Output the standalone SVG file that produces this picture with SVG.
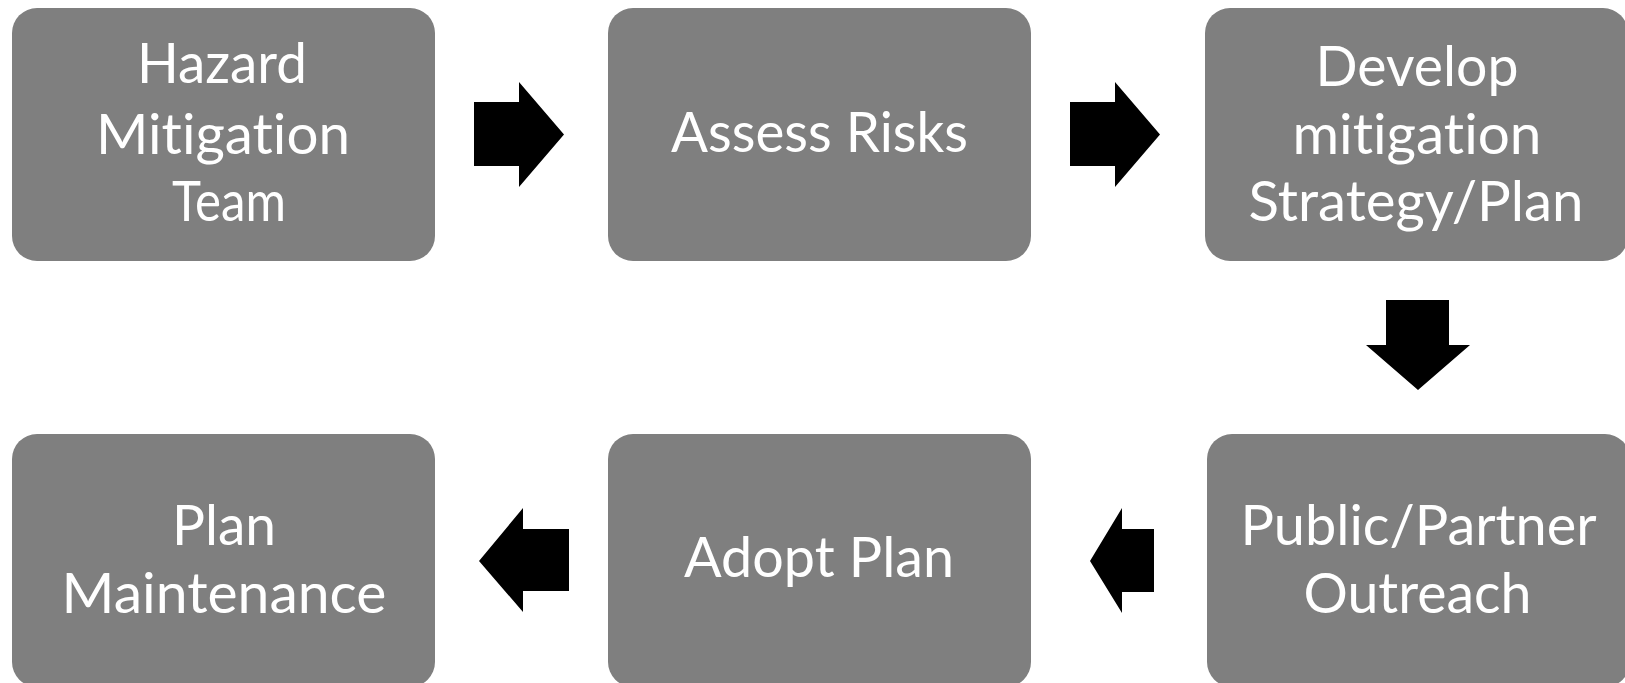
<svg xmlns="http://www.w3.org/2000/svg" width="1625" height="683" viewBox="0 0 1625 683">
<style>
.box{fill:#7f7f7f;}
.lbl{fill:#ffffff;font-family:Lato,"Open Sans","Liberation Sans",sans-serif;font-size:57px;text-anchor:middle;font-variant-ligatures:none;font-feature-settings:"liga" 0,"clig" 0;}
.arr{fill:#000000;}
</style>
<rect width="1625" height="683" fill="#ffffff"/>
<g id="node-hazard-team">
<rect class="box" x="12" y="8" width="423" height="253" rx="25"/>
<text class="lbl"><tspan x="222" y="83" textLength="170" lengthAdjust="spacingAndGlyphs">Hazard</tspan><tspan x="223" y="154" textLength="254" lengthAdjust="spacingAndGlyphs">Mitigation</tspan><tspan x="229" y="221" textLength="114" lengthAdjust="spacingAndGlyphs">Team</tspan></text>
</g>
<g id="node-assess-risks">
<rect class="box" x="608" y="8" width="423" height="253" rx="25"/>
<text class="lbl" x="819.5" y="152" textLength="297" lengthAdjust="spacingAndGlyphs">Assess Risks</text>
</g>
<g id="node-develop-strategy">
<rect class="box" x="1205" y="8" width="423" height="253" rx="25"/>
<text class="lbl"><tspan x="1417" y="86" textLength="203" lengthAdjust="spacingAndGlyphs">Develop</tspan><tspan x="1417" y="154" textLength="249" lengthAdjust="spacingAndGlyphs">mitigation</tspan><tspan x="1416" y="221" textLength="335" lengthAdjust="spacingAndGlyphs">Strategy/Plan</tspan></text>
</g>
<g id="node-public-outreach">
<rect class="box" x="1207" y="434" width="423" height="253" rx="25"/>
<text class="lbl"><tspan x="1418.5" y="545" textLength="356" lengthAdjust="spacingAndGlyphs">Public/Partner</tspan><tspan x="1417.5" y="613" textLength="228" lengthAdjust="spacingAndGlyphs">Outreach</tspan></text>
</g>
<g id="node-adopt-plan">
<rect class="box" x="608" y="434" width="423" height="253" rx="25"/>
<text class="lbl" x="819" y="577" textLength="270" lengthAdjust="spacingAndGlyphs">Adopt Plan</text>
</g>
<g id="node-plan-maintenance">
<rect class="box" x="12" y="434" width="423" height="253" rx="25"/>
<text class="lbl"><tspan x="224" y="545" textLength="104" lengthAdjust="spacingAndGlyphs">Plan</tspan><tspan x="224" y="613" textLength="325" lengthAdjust="spacingAndGlyphs">Maintenance</tspan></text>
</g>
<g id="connectors">
<polygon class="arr" points="474,102 519,102 519,82 564,134.5 519,187 519,166 474,166"/>
<polygon class="arr" points="1070,102 1115,102 1115,82 1160,134.5 1115,187 1115,166 1070,166"/>
<polygon class="arr" points="1386,300 1449,300 1449,345 1470,345 1418,390 1366,345 1386,345"/>
<polygon class="arr" points="1154,529 1122,529 1122,508 1090,561 1122,613 1122,592 1154,592"/>
<polygon class="arr" points="569,529 523,529 523,508 479,561 523,612 523,591 569,591"/>
</g>
</svg>
